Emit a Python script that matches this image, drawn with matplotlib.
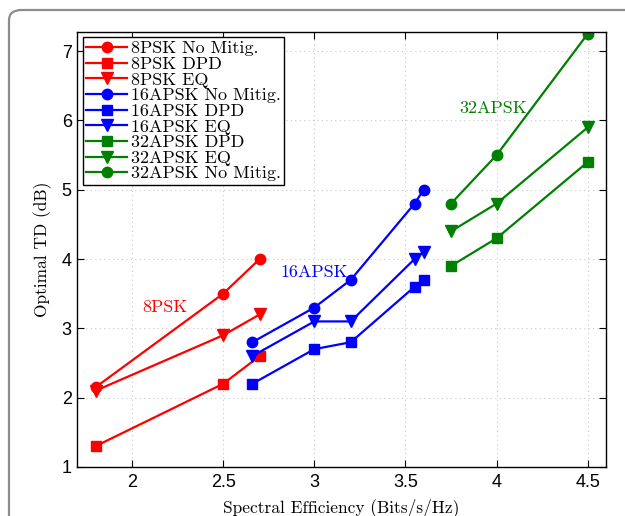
import matplotlib
matplotlib.use("Agg")
import matplotlib.pyplot as plt
from matplotlib.patches import FancyBboxPatch

# data
x_8psk = [1.8, 2.5, 2.7]
y_8psk_nomit = [2.15, 3.5, 4.0]
y_8psk_dpd = [1.3, 2.2, 2.6]
y_8psk_eq = [2.1, 2.9, 3.2]

x_16apsk = [2.66, 3.0, 3.2, 3.55, 3.6]
y_16apsk_nomit = [2.8, 3.3, 3.7, 4.8, 5.0]
y_16apsk_dpd = [2.2, 2.7, 2.8, 3.6, 3.7]
y_16apsk_eq = [2.6, 3.1, 3.1, 4.0, 4.1]

x_32apsk = [3.75, 4.0, 4.5]
y_32apsk_dpd = [3.9, 4.3, 5.4]
y_32apsk_eq = [4.4, 4.8, 5.9]
y_32apsk_nomit = [4.8, 5.5, 7.25]

RED = "#ff0000"
BLUE = "#0000ff"
GREEN = "#008000"
SERIF = "cmr10"
SANS = "Liberation Sans"

fig = plt.figure(figsize=(6.25, 5.16), dpi=100)
ax = fig.add_axes([0.1237, 0.095, 0.8459, 0.8436])

# outer rounded frame
frame = FancyBboxPatch((9 / 625, -0.2), 1.2, 1.2 - 10 / 516,
                       boxstyle="round,pad=0,rounding_size=0.02",
                       transform=fig.transFigure, facecolor="none",
                       edgecolor="#8c8c8c", linewidth=1.6, clip_on=False)
fig.patches.append(frame)

lw = 1.6
ms = 7.5
series = [
    (x_8psk, y_8psk_nomit, RED, "o", "8PSK No Mitig."),
    (x_8psk, y_8psk_dpd, RED, "s", "8PSK DPD"),
    (x_8psk, y_8psk_eq, RED, "v", "8PSK EQ"),
    (x_16apsk, y_16apsk_nomit, BLUE, "o", "16APSK No Mitig."),
    (x_16apsk, y_16apsk_dpd, BLUE, "s", "16APSK DPD"),
    (x_16apsk, y_16apsk_eq, BLUE, "v", "16APSK EQ"),
    (x_32apsk, y_32apsk_dpd, GREEN, "s", "32APSK DPD"),
    (x_32apsk, y_32apsk_eq, GREEN, "v", "32APSK EQ"),
    (x_32apsk, y_32apsk_nomit, GREEN, "o", "32APSK No Mitig."),
]
for xs, ys, c, m, lab in series:
    size = ms + 1.5 if m == "v" else (ms - 0.5 if m == "s" else ms)
    ax.plot(xs, ys, color=c, marker=m, markersize=size, linewidth=lw, label=lab)

ax.text(2.18, 3.31, "8PSK", color=RED, fontsize=13, family=SERIF, ha="center", va="center")
ax.text(3.0, 3.81, "16APSK", color=BLUE, fontsize=13, family=SERIF, ha="center", va="center")
ax.text(3.98, 6.18, "32APSK", color=GREEN, fontsize=13, family=SERIF, ha="center", va="center")

ax.set_xlim(1.7, 4.6)
ax.set_ylim(1, 7.28)
ax.set_xticks([2, 2.5, 3, 3.5, 4, 4.5])
ax.set_xticklabels(["2", "2.5", "3", "3.5", "4", "4.5"])
ax.set_yticks([1, 2, 3, 4, 5, 6, 7])
ax.tick_params(direction="in", top=True, right=True, length=5, width=0.8,
               labelsize=13)
ax.tick_params(axis="x", pad=5)
ax.tick_params(axis="y", pad=4)
for lbl in ax.get_xticklabels() + ax.get_yticklabels():
    lbl.set_fontfamily(SANS)
ax.grid(True, color="#c8c8c8", linestyle=(0, (1, 3)), linewidth=0.8)
for sp in ax.spines.values():
    sp.set_linewidth(1.0)

ax.set_xlabel("Spectral Efficiency (Bits/s/Hz)", family=SERIF, fontsize=12.5, labelpad=5)
ax.set_ylabel("Optimal TD (dB)", family=SERIF, fontsize=12.5, labelpad=7)

leg = ax.legend(loc="upper left", prop={"family": SERIF, "size": 13},
                labelspacing=0.0, handlelength=2.25, handletextpad=0.2,
                borderpad=0.2, borderaxespad=0.3, fancybox=False,
                edgecolor="black", framealpha=1)
leg.get_frame().set_linewidth(1.0)

plt.savefig("out.png", dpi=100)
plt.close()
